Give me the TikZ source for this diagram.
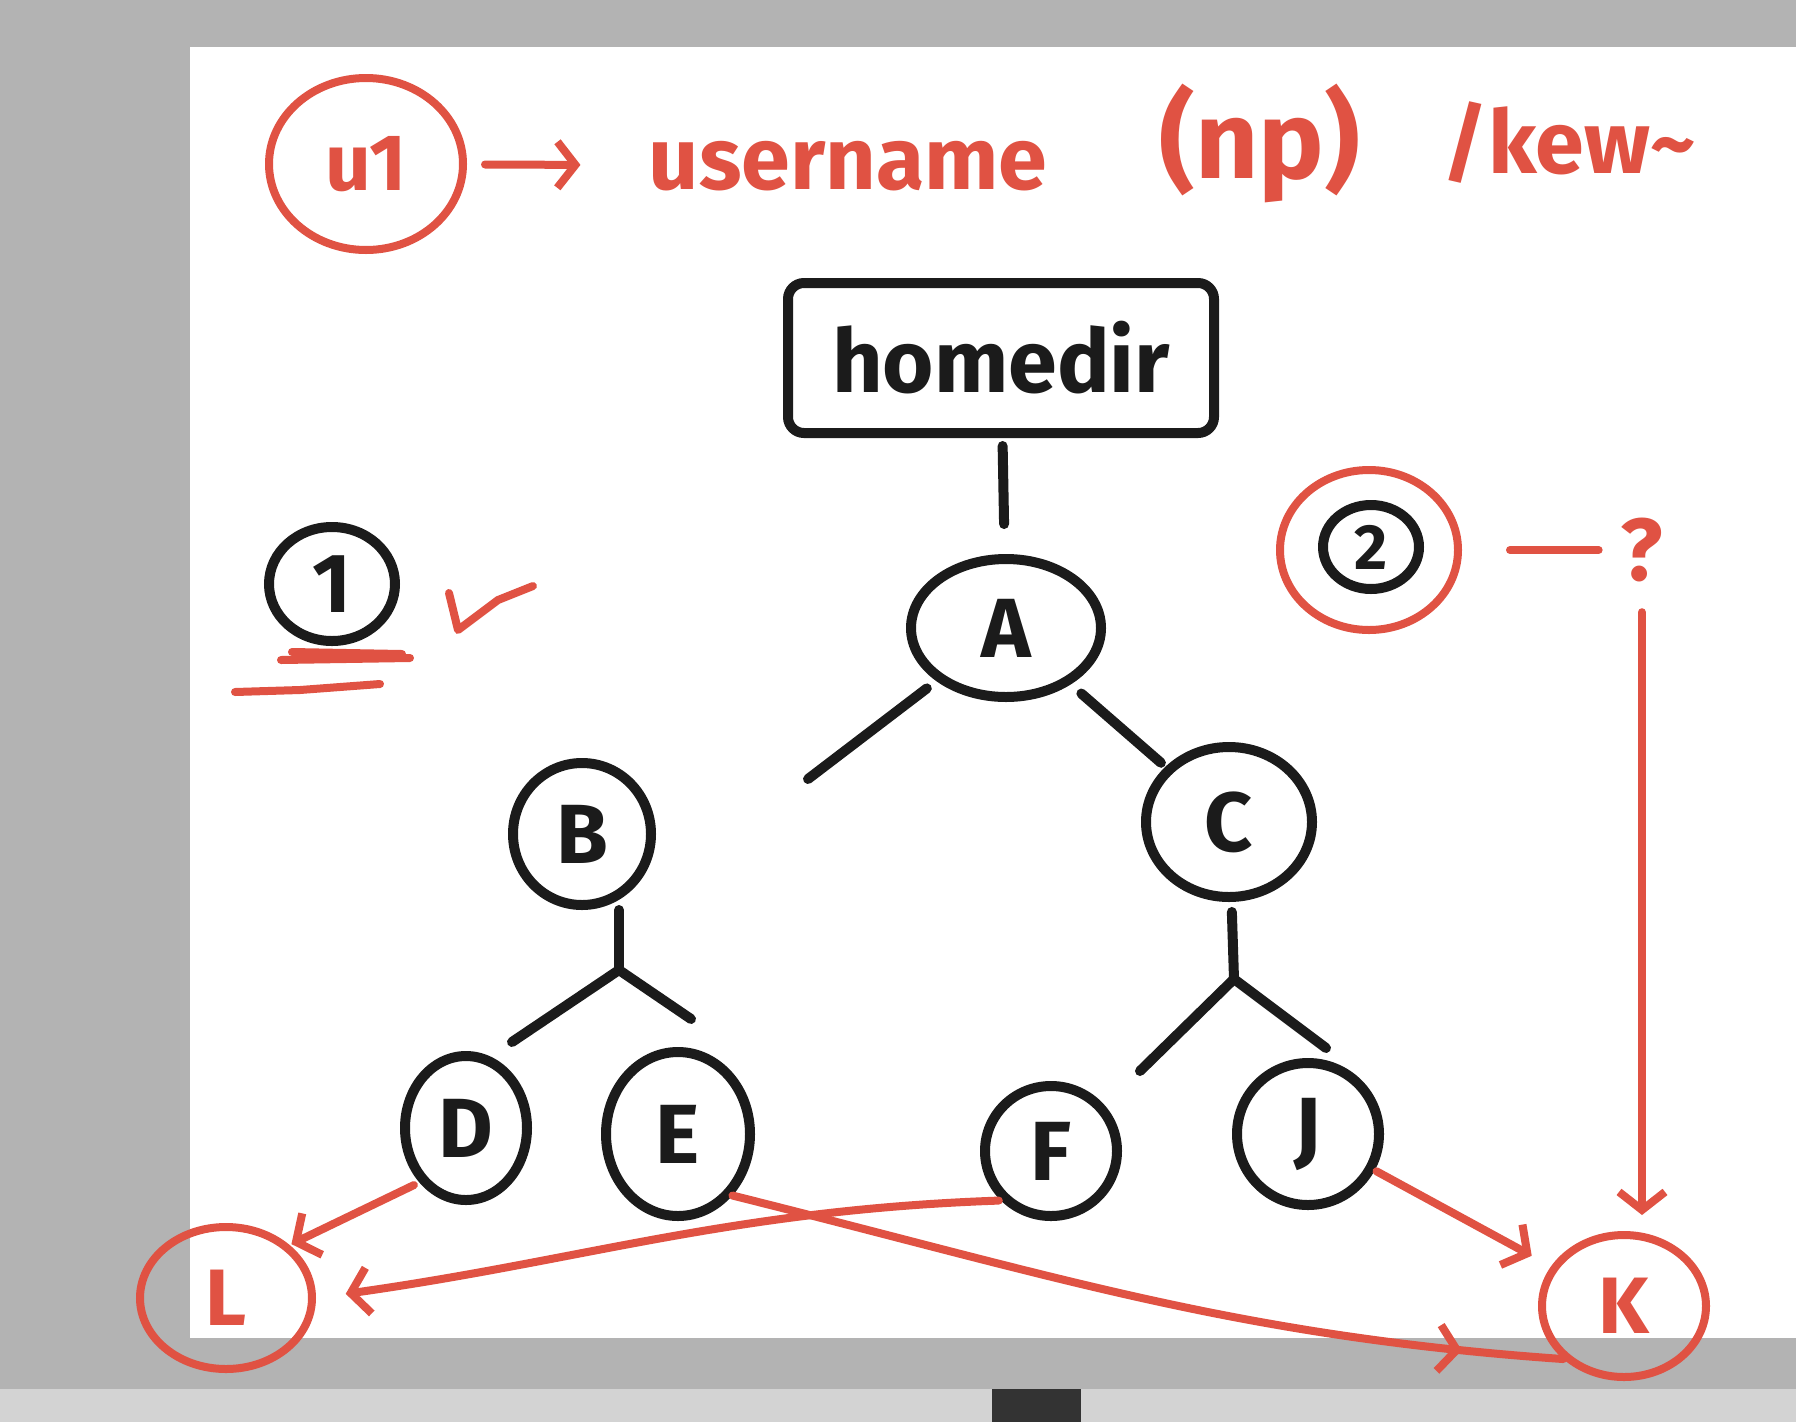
\documentclass[tikz,border=0pt]{standalone}
\usepackage{fontspec}
\setmainfont{Fira Sans}
\usepackage{tikz}
\usetikzlibrary{shapes,arrows.meta,positioning,calc,decorations.markings}
\definecolor{marker}{HTML}{E05243}
\definecolor{ink}{HTML}{1B1B1B}
\definecolor{frame}{HTML}{B3B3B3}
\definecolor{bar}{HTML}{D3D3D3}
\definecolor{thumb}{HTML}{333333}

\begin{document}
\begin{tikzpicture}[x=1pt, y=-1pt,
    dirnode/.style={ellipse, draw=ink, line width=10pt, inner sep=0pt, text=ink, font=\fontsize{84}{84}\selectfont\bfseries},
    rednode/.style={ellipse, draw=marker, line width=8pt, inner sep=0pt, text=marker, font=\fontsize{80}{80}\selectfont\bfseries},
    note/.style={text=marker, inner sep=0pt, font=\fontsize{88}{88}\selectfont\bfseries},
    edge/.style={draw=ink, line width=10pt, line cap=round},
    redline/.style={draw=marker, line width=8pt, line cap=round, line join=round},
    tiparrow/.style={postaction={decorate, decoration={markings, mark=at position #1 with {\arrow{>}}}}},
    >={Straight Barb[length=18pt, width=46pt]}
]

% Board
\fill[frame] (0,0) rectangle (1796,1389);
\fill[white] (190,47) rectangle (1796,1338);
\fill[bar] (0,1389) rectangle (1796,1422);
\fill[thumb] (992,1389) rectangle (1081,1422);
\useasboundingbox (0,0) rectangle (1796,1422);

% Top note
\node[rednode, minimum width=194, minimum height=172] (u1) at (366,164) {u1};
\node[note] (user) at (848,166) {username};
\node[note, font=\fontsize{110}{110}\selectfont\bfseries] (np) at (1260,143) {(np)};
\node[note] (key) at (1569,143) {/kew\textasciitilde};
\draw[redline, ->, shorten <=18pt, shorten >=68pt] (u1) -- (user);

% Home directory
\node[draw=ink, line width=10pt, rounded corners=16pt, minimum width=426, minimum height=150,
      text=ink, font=\fontsize{88}{88}\selectfont\bfseries] (home) at (1001,358) {homedir};

% Tree
\node[dirnode, minimum width=190, minimum height=138] (A) at (1006,628) {A};
\node[dirnode, minimum width=138, minimum height=142] (B) at (582,834) {B};
\node[dirnode, minimum width=166, minimum height=150] (C) at (1229,822) {C};
\node[dirnode, minimum width=122, minimum height=144] (D) at (466,1128) {D};
\node[dirnode, minimum width=144, minimum height=164] (E) at (678,1134) {E};
\node[dirnode, minimum width=132, minimum height=130] (F) at (1051,1151) {F};
\node[dirnode, minimum width=142, minimum height=142] (J) at (1308,1134) {J};
\coordinate (ab) at (808,779);
\coordinate (bsplit) at (619,970);
\coordinate (bd) at (512,1042);
\coordinate (be) at (691,1019);
\coordinate (csplit) at (1234,979);
\coordinate (cf) at (1140,1071);
\coordinate (cj) at (1326,1048);

\draw[edge, shorten <=8pt, shorten >=30pt] (home) -- (A);
\draw[edge, shorten <=12pt] (A) -- (ab);
\draw[edge, shorten <=14pt, shorten >=6pt] (A) -- (C);
\draw[edge] (bsplit |- B.south) -- (bsplit);
\draw[edge] (bsplit) -- (bd);
\draw[edge] (bsplit) -- (be);
\draw[edge, shorten <=10pt] (C) -- (csplit);
\draw[edge] (csplit) -- (cf);
\draw[edge] (csplit) -- (cj);

% Step 1
\node[dirnode, minimum width=126, minimum height=114] (one) at (332,584) {1};
\draw[redline] (281,660) -- (410,658);
\draw[redline] (292,652) -- (402,654);
\draw[redline] (235,692) -- (300,690) -- (380,684);
\draw[redline] (449,593) -- (458,630) -- (498,600) -- (533,586);

% Step 2
\node[rednode, minimum width=178, minimum height=160] (two) at (1369,550) {};
\node[dirnode, minimum width=96, minimum height=84, font=\fontsize{64}{64}\selectfont\bfseries] (twoin) at (1371,547) {2};
\node[note] (ask) at (1642,550) {?};
\draw[redline, shorten <=48pt, shorten >=22pt] (two) -- (ask);

% Targets
\node[rednode, minimum width=172, minimum height=142] (L) at (226,1298) {L};
\node[rednode, minimum width=164, minimum height=142] (K) at (1624,1306) {K};

\draw[redline, ->, shorten <=30pt, shorten >=16pt] (ask.south) -- (ask.south |- K.north);
\draw[redline, ->, shorten <=6pt, shorten >=2pt] (D.south west) -- (L.north east);
\draw[redline, ->, shorten <=2pt, shorten >=30pt] (F.south west) to[out=182, in=8] (L.east);
\draw[redline, tiparrow=0.88] (E.south east) to[out=-14, in=176] (K.south west);
\draw[redline, ->, shorten <=2pt, shorten >=22pt] (J) -- (K);

\end{tikzpicture}
\end{document}
